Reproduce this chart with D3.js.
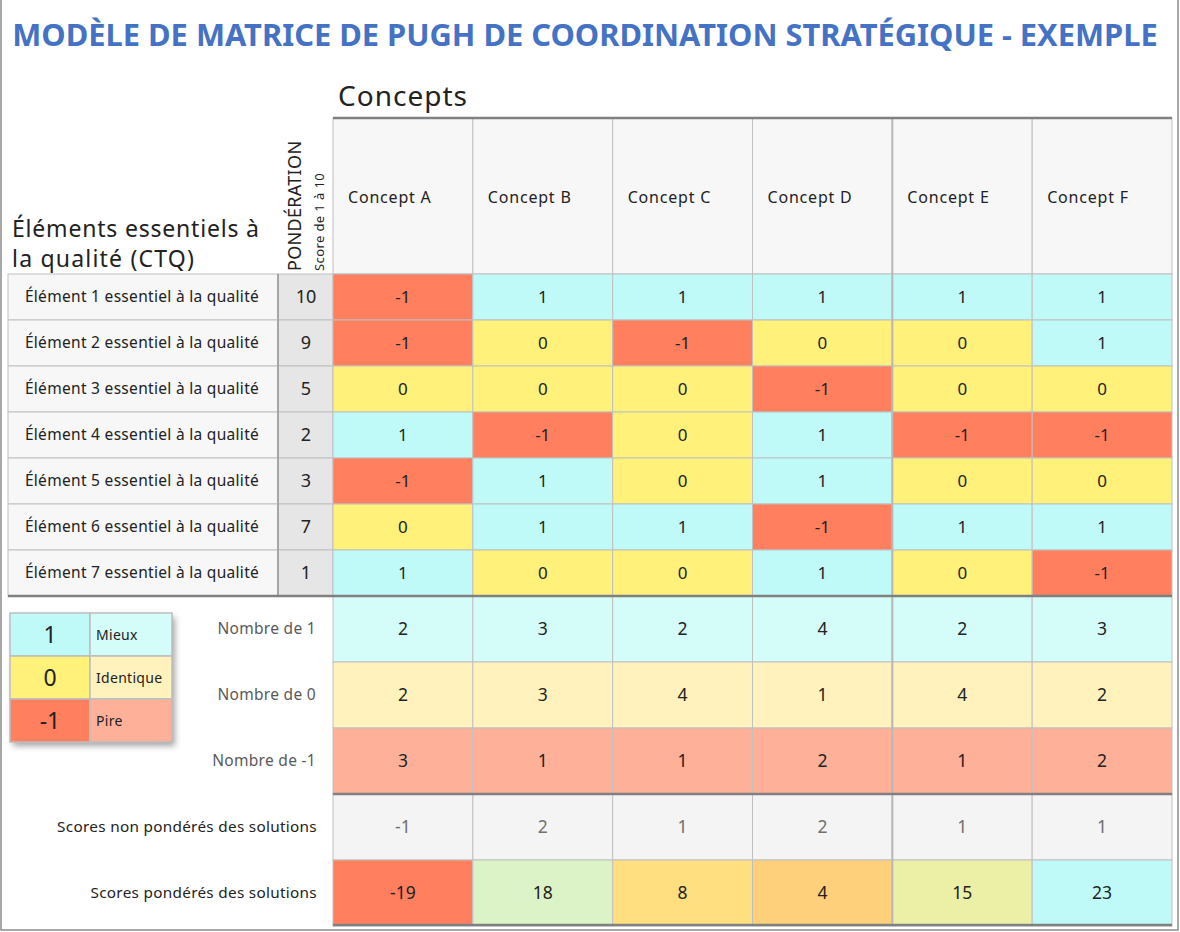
<!DOCTYPE html>
<html><head><meta charset="utf-8">
<script src="https://cdn.jsdelivr.net/npm/d3@7/dist/d3.min.js"></script>
<style>body{margin:0;background:#fff}svg{display:block}text{font-family:'Noto Sans',sans-serif}</style>
</head><body><svg id="c" width="1180" height="932"></svg>
<script>
const title = "MODÈLE DE MATRICE DE PUGH DE COORDINATION STRATÉGIQUE - EXEMPLE";
const concepts = ["Concept A","Concept B","Concept C","Concept D","Concept E","Concept F"];
const elements = ["Élément 1 essentiel à la qualité","Élément 2 essentiel à la qualité","Élément 3 essentiel à la qualité","Élément 4 essentiel à la qualité","Élément 5 essentiel à la qualité","Élément 6 essentiel à la qualité","Élément 7 essentiel à la qualité"];
const weights = [10,9,5,2,3,7,1];
const ratings = [
  [-1,1,1,1,1,1],
  [-1,0,-1,0,0,1],
  [0,0,0,-1,0,0],
  [1,-1,0,1,-1,-1],
  [-1,1,0,1,0,0],
  [0,1,1,-1,1,1],
  [1,0,0,1,0,-1]
];
const countLabels = ["Nombre de 1","Nombre de 0","Nombre de -1"];
const countPlus = [2,3,2,4,2,3];
const countZero = [2,3,4,1,4,2];
const countMinus = [3,1,1,2,1,2];
const scoreLabels = ["Scores non pondérés des solutions","Scores pondérés des solutions"];
const unweighted = [-1,2,1,2,1,1];
const weighted = [-19,18,8,4,15,23];
const legendValues = [1,0,-1];
const legendLabels = ["Mieux","Identique","Pire"];

const svg = d3.select("#c");
const cellColor = {"1":"#bffaf8","0":"#fff17a","-1":"#ff7f5f"};
const countColor = ["#d4fcf8","#fff2bc","#ffb098"];
const grid = "#c0c0c0", thick = "#808080";

// defs
const defs = svg.append("defs");
const f = defs.append("filter").attr("id","sh").attr("x","-20%").attr("y","-20%").attr("width","150%").attr("height","150%");
f.append("feDropShadow").attr("dx",3).attr("dy",4).attr("stdDeviation",3).attr("flood-color","#000").attr("flood-opacity",0.35);

// outer frame
svg.append("rect").attr("x",1).attr("y",-3).attr("width",1177).attr("height",933)
  .attr("fill","none").attr("stroke","#8c8c8c").attr("stroke-width",1.5);

// title
const t = svg.append("text").attr("x",585).attr("y",46).attr("text-anchor","middle")
  .attr("fill","#4472c4").attr("font-weight","bold").attr("font-size",30).text(title);
const tw = t.node().getComputedTextLength();
t.attr("font-size", 30*1146/tw);

// scales
const x = d3.scaleBand().domain(concepts).range([333,1172]);
const yEl = d3.scaleBand().domain(elements).range([274,596]);
const yCnt = d3.scaleBand().domain(countLabels).range([596,794]);
const ySc = d3.scaleBand().domain(scoreLabels).range([794,926]);
const colorW = d3.scaleLinear().domain([d3.min(weighted), d3.median(weighted), d3.max(weighted)])
  .range(["#ff7f5f","#ffeb84","#bffaf8"]).interpolate(d3.interpolateRgb);

// Concepts label
svg.append("text").attr("x",338).attr("y",106).attr("font-size",28).attr("letter-spacing",1).attr("fill","#222").text("Concepts");

// header cells
svg.append("g").selectAll("rect").data(concepts).join("rect")
  .attr("x",d=>x(d)).attr("y",118).attr("width",x.bandwidth()).attr("height",156)
  .attr("fill","#f7f7f7").attr("stroke",grid).attr("stroke-width",1);
svg.append("g").selectAll("text").data(concepts).join("text")
  .attr("x",d=>x(d)+15).attr("y",203).attr("font-size",16).attr("letter-spacing",0.8).attr("fill","#222").text(d=>d);

// left header
svg.append("text").attr("x",12).attr("y",237).attr("font-size",23).attr("letter-spacing",0.8).attr("fill","#222").text("Éléments essentiels à");
svg.append("text").attr("x",12).attr("y",267).attr("font-size",23).attr("letter-spacing",1.2).attr("fill","#222").text("la qualité (CTQ)");
svg.append("text").attr("transform","translate(301,271) rotate(-90)").attr("font-size",18).attr("letter-spacing",0.3).attr("fill","#222").text("PONDÉRATION");
svg.append("text").attr("transform","translate(324,271) rotate(-90)").attr("font-size",13).attr("letter-spacing",0.4).attr("fill","#222").text("Score de 1 à 10");

// element rows
const er = svg.append("g");
er.selectAll("rect.lab").data(elements).join("rect").attr("class","lab")
  .attr("x",8).attr("y",d=>yEl(d)).attr("width",270).attr("height",yEl.bandwidth())
  .attr("fill","#f7f7f7").attr("stroke",grid);
er.selectAll("rect.w").data(elements).join("rect").attr("class","w")
  .attr("x",278).attr("y",d=>yEl(d)).attr("width",55).attr("height",yEl.bandwidth())
  .attr("fill","#e6e6e6").attr("stroke",grid);
er.selectAll("text.lab").data(elements).join("text").attr("class","lab")
  .attr("x",142).attr("y",d=>yEl(d)+yEl.bandwidth()/2+5).attr("text-anchor","middle")
  .attr("font-size",15.5).attr("letter-spacing",0.3).attr("fill","#222").text(d=>d);
er.selectAll("text.w").data(weights).join("text").attr("class","w")
  .attr("x",306).attr("y",(d,i)=>yEl(elements[i])+yEl.bandwidth()/2+6).attr("text-anchor","middle")
  .attr("font-size",18).attr("fill","#222").text(d=>d);
svg.append("line").attr("x1",278).attr("x2",278).attr("y1",274).attr("y2",596).attr("stroke","#a6a6a6").attr("stroke-width",2);

const cells = [];
ratings.forEach((r,i)=>r.forEach((v,j)=>cells.push({row:elements[i],col:concepts[j],v})));
const cg = svg.append("g");
cg.selectAll("rect").data(cells).join("rect")
  .attr("x",d=>x(d.col)).attr("y",d=>yEl(d.row)).attr("width",x.bandwidth()).attr("height",yEl.bandwidth())
  .attr("fill",d=>cellColor[d.v]).attr("stroke",grid);
cg.selectAll("text").data(cells).join("text")
  .attr("x",d=>x(d.col)+x.bandwidth()/2).attr("y",d=>yEl(d.row)+yEl.bandwidth()/2+6)
  .attr("text-anchor","middle").attr("font-size",17).attr("fill","#222").text(d=>d.v);

// count rows
const counts = [countPlus,countZero,countMinus];
const cc = [];
counts.forEach((arr,i)=>arr.forEach((v,j)=>cc.push({row:countLabels[i],i,col:concepts[j],v})));
const kg = svg.append("g");
kg.selectAll("rect").data(cc).join("rect")
  .attr("x",d=>x(d.col)).attr("y",d=>yCnt(d.row)).attr("width",x.bandwidth()).attr("height",yCnt.bandwidth())
  .attr("fill",d=>countColor[d.i]).attr("stroke",grid);
kg.selectAll("text.v").data(cc).join("text").attr("class","v")
  .attr("x",d=>x(d.col)+x.bandwidth()/2).attr("y",d=>yCnt(d.row)+yCnt.bandwidth()/2+6)
  .attr("text-anchor","middle").attr("font-size",17.5).attr("fill","#222").text(d=>d.v);
kg.selectAll("text.l").data(countLabels).join("text").attr("class","l")
  .attr("x",316).attr("y",d=>yCnt(d)+yCnt.bandwidth()/2+5).attr("text-anchor","end")
  .attr("font-size",15.5).attr("letter-spacing",0.3).attr("fill","#595959").text(d=>d);

// score rows
const sc = [];
unweighted.forEach((v,j)=>sc.push({row:scoreLabels[0],k:0,col:concepts[j],v}));
weighted.forEach((v,j)=>sc.push({row:scoreLabels[1],k:1,col:concepts[j],v}));
const sg = svg.append("g");
sg.selectAll("rect").data(sc).join("rect")
  .attr("x",d=>x(d.col)).attr("y",d=>ySc(d.row)).attr("width",x.bandwidth()).attr("height",ySc.bandwidth())
  .attr("fill",d=>d.k===0?"#f4f4f4":colorW(d.v)).attr("stroke",grid);
sg.selectAll("text.v").data(sc).join("text").attr("class","v")
  .attr("x",d=>x(d.col)+x.bandwidth()/2).attr("y",d=>ySc(d.row)+ySc.bandwidth()/2+6)
  .attr("text-anchor","middle").attr("font-size",17.5).attr("fill",d=>d.k===0?"#707070":"#222").text(d=>d.v);
sg.selectAll("text.l").data(scoreLabels).join("text").attr("class","l")
  .attr("x",317).attr("y",d=>ySc(d)+ySc.bandwidth()/2+5).attr("text-anchor","end")
  .attr("font-size",15.3).attr("letter-spacing",0.3).attr("fill","#222").text(d=>d);

// C|D divider slightly heavier
svg.append("line").attr("x1",x("Concept E")).attr("x2",x("Concept E")).attr("y1",118).attr("y2",926).attr("stroke","#b8b8b8").attr("stroke-width",2);

// thick lines
[[333,118],[8,596],[333,794],[333,925]].forEach(([x0,y])=>{
  svg.append("line").attr("x1",x0).attr("x2",1172).attr("y1",y).attr("y2",y).attr("stroke",thick).attr("stroke-width",2.5);
});

// legend
const ly = d3.scaleBand().domain(legendValues).range([613,742]);
const lg = svg.append("g");
lg.append("rect").attr("x",10).attr("y",613).attr("width",162).attr("height",129).attr("fill","#fff").attr("filter","url(#sh)");
lg.selectAll("rect.a").data(legendValues).join("rect").attr("class","a")
  .attr("x",10).attr("y",d=>ly(d)).attr("width",80).attr("height",ly.bandwidth())
  .attr("fill",d=>cellColor[d]).attr("stroke","#bdbdbd").attr("stroke-width",1.5);
lg.selectAll("rect.b").data(legendValues).join("rect").attr("class","b")
  .attr("x",90).attr("y",d=>ly(d)).attr("width",82).attr("height",ly.bandwidth())
  .attr("fill",(d,i)=>countColor[i]).attr("stroke","#bdbdbd").attr("stroke-width",1.5);
lg.selectAll("text.a").data(legendValues).join("text").attr("class","a")
  .attr("x",50).attr("y",d=>ly(d)+ly.bandwidth()/2+8).attr("text-anchor","middle")
  .attr("font-size",23).attr("fill","#222").text(d=>d);
lg.selectAll("text.b").data(legendLabels).join("text").attr("class","b")
  .attr("x",96).attr("y",(d,i)=>ly(legendValues[i])+ly.bandwidth()/2+5)
  .attr("font-size",14).attr("letter-spacing",0.3).attr("fill","#222").text(d=>d);
</script></body></html>
